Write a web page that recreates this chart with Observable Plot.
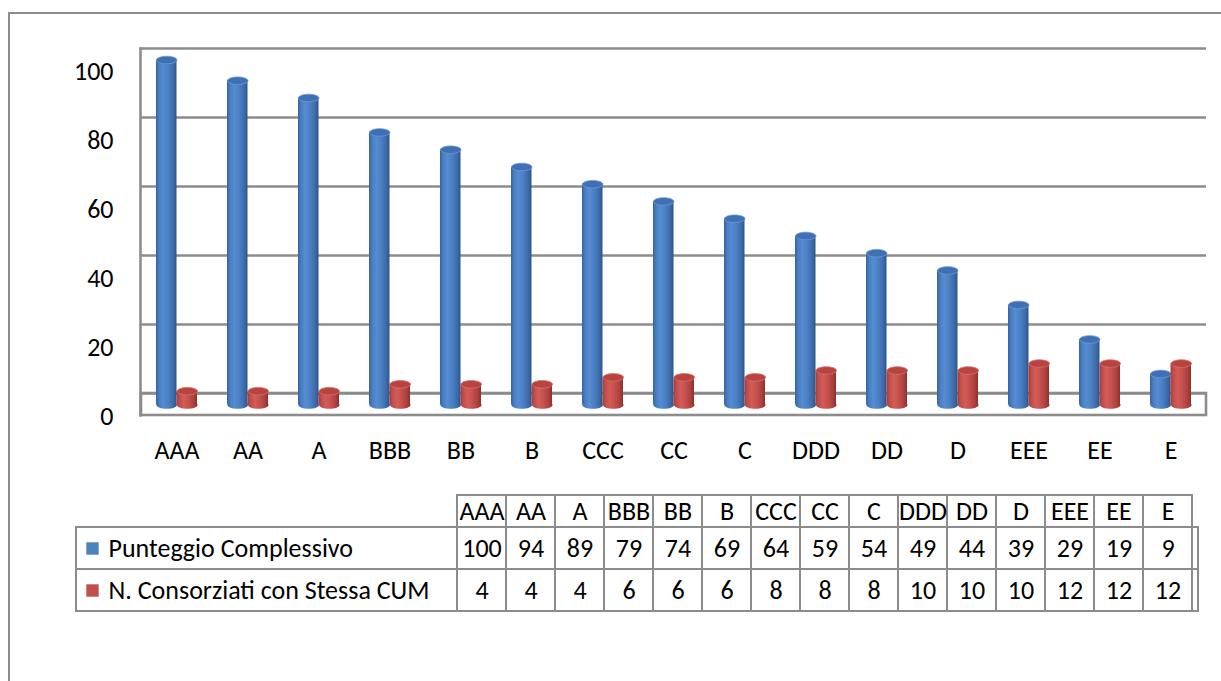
<!DOCTYPE html>
<html>
<head>
<meta charset="utf-8">
<script src="https://cdn.jsdelivr.net/npm/d3@7"></script>
<script src="https://cdn.jsdelivr.net/npm/@observablehq/plot@0.6"></script>
<style>
  html, body { margin: 0; padding: 0; background: #fff; overflow: hidden; }
  #wrap { position: relative; width: 1221px; height: 681px; }
  #border { position: absolute; left: 8px; top: 12px; width: 1400px; height: 900px;
            border-left: 2px solid #8c8c8c; border-top: 2px solid #8c8c8c;
            pointer-events: none; z-index: 2; }
</style>
</head>
<body>
<div id="wrap"><div id="border"></div><div id="chart"></div><div id="table"></div></div>
<script>
// Ratings and their two series
const categories = ["AAA","AA","A","BBB","BB","B","CCC","CC","C","DDD","DD","D","EEE","EE","E"];
const punteggio = [100,94,89,79,74,69,64,59,54,49,44,39,29,19,9];
const consorziati = [4,4,4,6,6,6,8,8,8,10,10,10,12,12,12];
const seriesNames = ["Punteggio Complessivo","N. Consorziati con Stessa CUM"];
const seriesColors = ["#4f81bd","#c0504d"];
const yTicks = [0,20,40,60,80,100];

const FONT = "Carlito, Calibri, Lato, sans-serif";
const GRID = "#8c8c8c";
const DEPTH = 22;   // back wall sits this many pixels above the front plane
const LIFT = -10.5; // cylinders stand half way into the floor

// Elliptical symbol for cylinder caps (rx from size, flattened vertically)
const ellipse = {
  draw(ctx, size) {
    const rx = Math.sqrt(size / Math.PI), ry = rx * 0.37, k = 0.5522848;
    ctx.moveTo(rx, 0);
    ctx.bezierCurveTo(rx, ry * k, rx * k, ry, 0, ry);
    ctx.bezierCurveTo(-rx * k, ry, -rx, ry * k, -rx, 0);
    ctx.bezierCurveTo(-rx, -ry * k, -rx * k, -ry, 0, -ry);
    ctx.bezierCurveTo(rx * k, -ry, rx, -ry * k, rx, 0);
    ctx.closePath();
  }
};

// Horizontal shading gradients for the cylinder bodies
function gradients() {
  const defs = d3.create("svg:defs");
  const shade = {
    blue: ["#3463a0", "#4a7ec2", "#558cd2", "#4b80c3", "#3c6aa8", "#2c5488"],
    red:  ["#a23d3a", "#c24e4b", "#d25c58", "#c44f4c", "#aa403d", "#8a302e"]
  };
  const offsets = [0, 0.15, 0.35, 0.6, 0.85, 1];
  for (const [name, cols] of Object.entries(shade)) {
    const g = defs.append("linearGradient").attr("id", `${name}-body`)
      .attr("x1", 0).attr("x2", 1).attr("y1", 0).attr("y2", 0);
    cols.forEach((c, i) => g.append("stop").attr("offset", offsets[i]).attr("stop-color", c));
  }
  return defs.node();
}

function cylinders(values, name, side, topFill, topStroke) {
  const data = categories.map((c, i) => ({cat: c, value: values[i]}));
  const off = side * 10.3;
  const inset = side < 0 ? {insetLeft: 15, insetRight: 35.5} : {insetLeft: 35.5, insetRight: 15};
  return [
    Plot.dot(data, {x: "cat", y: () => 0, dx: off, dy: LIFT, r: 10.25, symbol: ellipse,
                    fill: `url(#${name}-body)`}),
    Plot.barY(data, {x: "cat", y: "value", ...inset, dy: LIFT, fill: `url(#${name}-body)`}),
    Plot.dot(data, {x: "cat", y: "value", dx: off, dy: LIFT, r: 10.25, symbol: ellipse,
                    fill: topFill, stroke: topStroke, strokeWidth: 0.8})
  ];
}

const chart = Plot.plot({
  width: 1221, height: 480,
  marginTop: 48, marginBottom: 65, marginLeft: 140, marginRight: 15,
  x: {type: "band", domain: categories, range: [140, 1206], padding: 0, axis: null},
  y: {domain: [0, 100], range: [415, 70]},
  style: {fontFamily: FONT, fontSize: "26px", color: "#000", background: "transparent"},
  marks: [
    gradients,
    // back wall gridlines
    Plot.ruleY(yTicks, {dy: -DEPTH, stroke: GRID, strokeWidth: 2.6}),
    // side wall edge and floor
    Plot.frame({anchor: "left", stroke: GRID, strokeWidth: 2.6}),
    Plot.rect([0], {x1: () => categories[0], x2: () => categories[categories.length - 1],
                    y1: () => 0, y2: () => 0, insetTop: -DEPTH,
                    fill: "none", stroke: GRID, strokeWidth: 2.6}),
    Plot.axisY({ticks: yTicks, tickSize: 0, tickPadding: 27, label: null, dy: 1}),
    Plot.text(categories, {x: d => d, frameAnchor: "bottom", lineAnchor: "middle", dy: 35}),
    ...cylinders(punteggio, "blue", -1, "#3f70b3", "#6d9bd6"),
    ...cylinders(consorziati, "red", 1, "#b8433f", "#d8716d")
  ]
});
document.getElementById("chart").append(chart);

// Data table under the chart
const tableRows = [];
categories.forEach((c, i) => {
  tableRows.push({cat: c, series: seriesNames[0], value: punteggio[i]});
  tableRows.push({cat: c, series: seriesNames[1], value: consorziati[i]});
});

const table = Plot.plot({
  width: 1221, height: 201,
  marginTop: 15, marginBottom: 70, marginLeft: 76, marginRight: 23,
  x: {type: "band", domain: categories, range: [450, 1198], padding: 0, axis: null},
  y: {type: "band", domain: seriesNames, range: [47, 131], padding: 0, axis: null},
  color: {domain: seriesNames, range: seriesColors},
  style: {fontFamily: FONT, fontSize: "26px", color: "#000", background: "transparent"},
  marks: [
    Plot.cell(categories, {x: d => d, fill: "none", stroke: GRID, strokeWidth: 2}),
    Plot.cell(seriesNames, {y: d => d, fill: "none", stroke: GRID, strokeWidth: 2}),
    Plot.text(categories, {x: d => d, frameAnchor: "top", lineAnchor: "middle", dy: 16}),
    Plot.text(tableRows, {x: "cat", y: "series", text: d => String(d.value)}),
    Plot.dot(seriesNames, {y: d => d, frameAnchor: "left", dx: 16, symbol: "square", r: 7, fill: d => d}),
    Plot.text(seriesNames, {y: d => d, frameAnchor: "left", dx: 32, textAnchor: "start"})
  ]
});
document.getElementById("table").append(table);
</script>
</body>
</html>
